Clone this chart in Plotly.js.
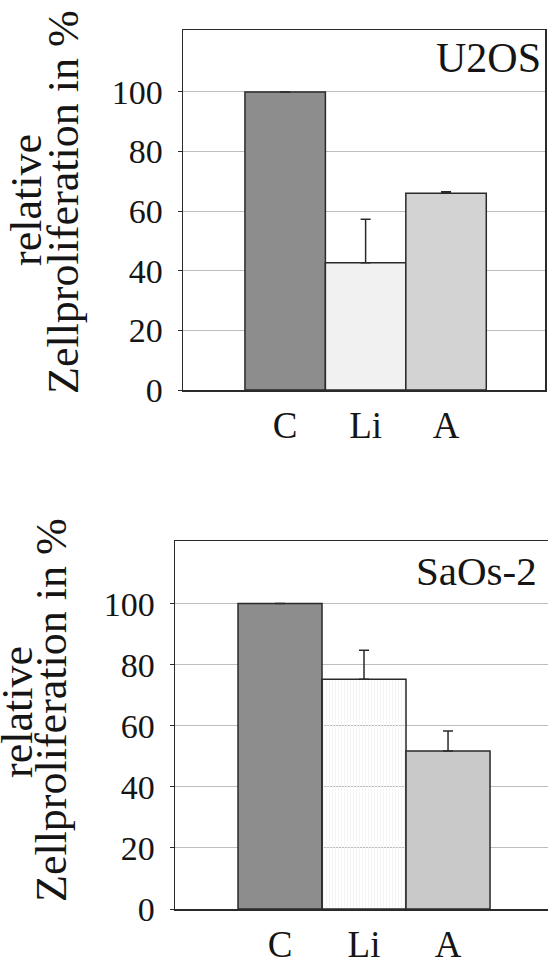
<!DOCTYPE html>
<html>
<head>
<meta charset="utf-8">
<script src="https://cdn.plot.ly/plotly-3.0.1.min.js"></script>
<style>
html,body{margin:0;padding:0;background:#fff;overflow:hidden;}
#chart{width:548px;height:964px;}
</style>
</head>
<body>
<div id="chart"></div>
<script>
// ---- data ----
const categories = ["C", "Li", "A"];
const u2osValues = [100, 42.7, 66.0];
const u2osErrors = [null, 14.6, 0.5];
const saos2Values = [100, 75.2, 51.7];
const saos2Errors = [null, 9.5, 6.6];
const yTickValues = [0, 20, 40, 60, 80, 100];
const panelLabels = ["U2OS", "SaOs-2"];
const yTitleLines = ["relative", "Zellproliferation in %"];

// ---- layout helpers ----
const W = 548, H = 964;
const px = x => x / W;
const py = y => 1 - y / H;
const FONT = "Liberation Serif, Times New Roman, serif";
const DARK = '#2a2a2a';
const TXT = '#151515';

const barLine = {color: DARK, width: 1.5};
const errStyle = (arr) => ({type: 'data', symmetric: false, array: arr, arrayminus: [null, 0, 0],
  color: DARK, thickness: 1.5, width: 5});

const traces = [
  {type: 'bar', x: categories, y: u2osValues, width: 1, xaxis: 'x', yaxis: 'y',
   marker: {color: ['#8d8d8d', '#f1f1f1', '#d3d3d3'], line: barLine},
   error_y: errStyle(u2osErrors), hoverinfo: 'none', showlegend: false},
  {type: 'bar', x: categories, y: saos2Values, width: 1, xaxis: 'x2', yaxis: 'y2',
   marker: {color: ['#8d8d8d', '#f4f4f4', '#c9c9c9'], line: barLine,
     pattern: {shape: ['', '|', ''], fgcolor: '#e0e0e0', bgcolor: ['#8d8d8d', '#f6f6f6', '#c9c9c9'], size: 3, solidity: 0.3}},
   error_y: errStyle(saos2Errors), hoverinfo: 'none', showlegend: false}
];

const xAxisBase = {
  type: 'category', showline: true, linecolor: DARK, linewidth: 1.5, mirror: true,
  ticks: '', showgrid: false, zeroline: false, fixedrange: true,
  tickfont: {family: FONT, size: 37, color: TXT}, ticklabelstandoff: 2
};
const yAxisBase = {
  showline: true, linecolor: DARK, linewidth: 1.5,
  ticks: 'outside', ticklen: 4, tickcolor: DARK, tickwidth: 1,
  tickvals: yTickValues, ticktext: yTickValues.map(String),
  showgrid: true, gridcolor: '#bdbdbd', gridwidth: 1, zeroline: false, fixedrange: true,
  tickfont: {family: FONT, size: 34, color: TXT}, ticklabelstandoff: 8
};

const titleAnn = (text, x, y) => ({text: text, xref: 'paper', yref: 'paper', x: px(x), y: py(y),
  xanchor: 'center', yanchor: 'middle', textangle: -90, showarrow: false,
  font: {family: FONT, size: 44, color: TXT}});

const layout = {
  width: W, height: H,
  margin: {l: 0, r: 0, t: 0, b: 0},
  paper_bgcolor: '#fff', plot_bgcolor: '#fff',
  bargap: 0,
  xaxis: Object.assign({}, xAxisBase, {domain: [px(183), px(545)], range: [-1.27, 3.23], anchor: 'y'}),
  yaxis: Object.assign({}, yAxisBase, {domain: [py(390), py(30)], range: [0, 120.8], anchor: 'x', mirror: true}),
  xaxis2: Object.assign({}, xAxisBase, {domain: [px(175), 1], range: [-1.25, 3.19], anchor: 'y2'}),
  yaxis2: Object.assign({}, yAxisBase, {domain: [py(909), py(541)], range: [0, 120.5], anchor: 'x2', mirror: false}),
  annotations: [
    {text: panelLabels[0], xref: 'paper', yref: 'paper', x: px(543), y: py(58), xanchor: 'right', yanchor: 'middle',
     showarrow: false, font: {family: FONT, size: 42, color: TXT}},
    {text: panelLabels[1], xref: 'paper', yref: 'paper', x: px(539), y: py(571), xanchor: 'right', yanchor: 'middle',
     showarrow: false, font: {family: FONT, size: 41, color: TXT}},
    titleAnn(yTitleLines[0], 26, 200),
    titleAnn(yTitleLines[1], 63, 202),
    titleAnn(yTitleLines[0], 17, 712),
    titleAnn(yTitleLines[1], 51, 710)
  ]
};

Plotly.newPlot('chart', traces, layout, {staticPlot: true, displayModeBar: false});
</script>
</body>
</html>
